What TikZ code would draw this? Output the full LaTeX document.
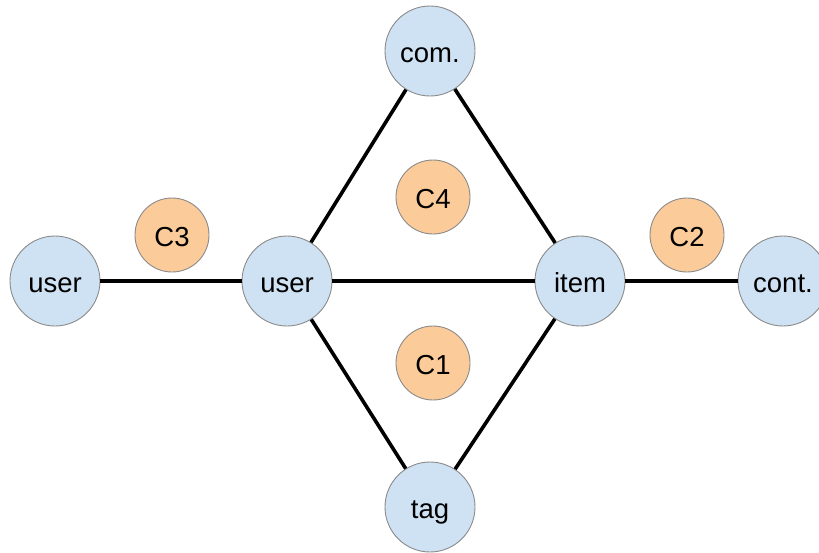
\documentclass[tikz,border=0pt]{standalone}
\usepackage{fontspec}
\setmainfont{Liberation Sans}
\definecolor{nblue}{HTML}{CFE2F3}
\definecolor{norange}{HTML}{FCCB9A}
\definecolor{nborder}{HTML}{8A8A8A}
\begin{document}
\begin{tikzpicture}[x=1pt,y=-1pt,
  lbl/.style={font=\fontsize{27.5}{32}\selectfont,text height=25pt,text depth=3pt},
  ent/.style={lbl,circle,draw=nborder,line width=0.9pt,fill=nblue,minimum size=90pt,inner sep=0pt},
  comm/.style={lbl,circle,draw=nborder,line width=0.9pt,fill=norange,minimum size=74pt,inner sep=0pt},
  edge/.style={line width=3.6pt,black}]
\useasboundingbox (0,0) rectangle (819,552);
\node[ent] (u1) at (55,281) {user};
\node[ent] (u2) at (287,281) {user};
\node[ent] (it) at (580,281) {item};
\node[ent] (co) at (783,281) {cont.};
\node[ent] (cm) at (430,51) {com.};
\node[ent] (tg) at (430,507) {tag};
\node[comm] (c3) at (172,235) {C3};
\node[comm] (c4) at (433,197) {C4};
\node[comm] (c1) at (433,363) {C1};
\node[comm] (c2) at (687,235) {C2};
\draw[edge] (u1) -- (u2);
\draw[edge] (u2) -- (it);
\draw[edge] (it) -- (co);
\draw[edge] (u2) -- (cm);
\draw[edge] (cm) -- (it);
\draw[edge] (u2) -- (tg);
\draw[edge] (tg) -- (it);
\end{tikzpicture}
\end{document}
